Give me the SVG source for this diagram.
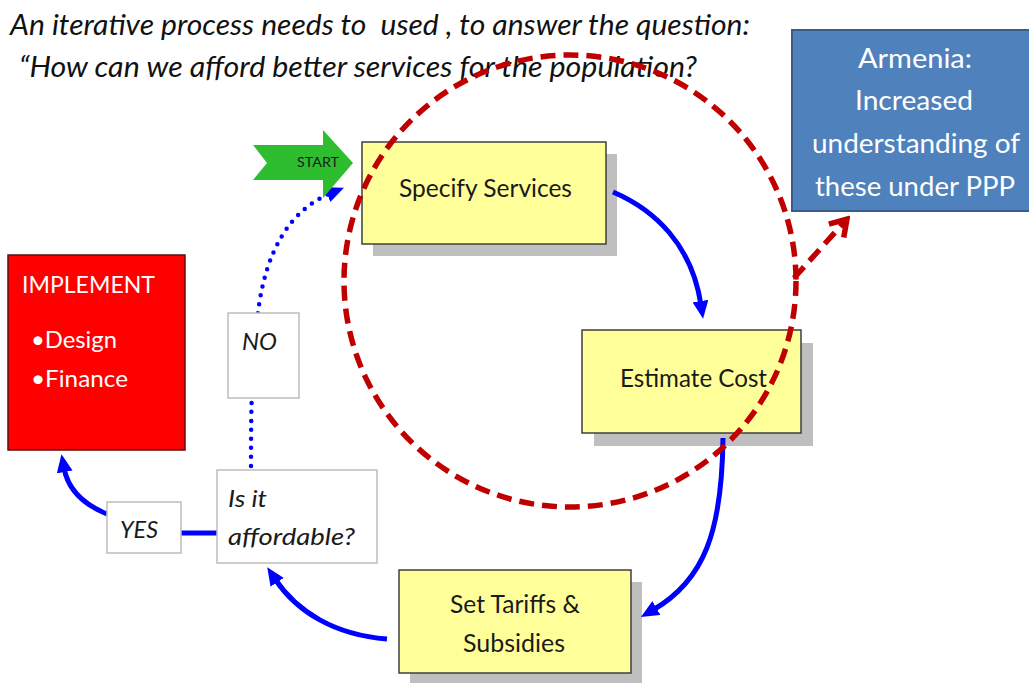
<svg xmlns="http://www.w3.org/2000/svg" width="1029" height="683" viewBox="0 0 1029 683">
  <style>
    text { font-family: Lato, "Liberation Sans", sans-serif; }
    .title { font-size: 28px; font-style: italic; fill: #111111; white-space: pre; }
    .step { fill: #FFFF99; stroke: #3f3f3f; stroke-width: 1.5; }
    .shadow { fill: #BFBFBF; }
    .stepText { font-size: 25px; fill: #1a1a1a; text-anchor: middle; }
    .label { fill: #ffffff; stroke: #bdbdbd; stroke-width: 1.5; }
    .labelText { font-size: 24px; font-style: italic; fill: #1a1a1a; }
    .white { fill: #ffffff; }
    .flow { fill: none; stroke: #0000FF; stroke-width: 5; }
    .loop { fill: none; stroke: #0000FF; stroke-width: 4.5; stroke-dasharray: 0 9; stroke-linecap: round; }
    .scope { fill: none; stroke: #C00000; stroke-width: 5.5; stroke-dasharray: 15 8; }
  </style>
  <defs>
    <marker id="blueHead" viewBox="0 0 18 16" refX="4" refY="8" markerWidth="18" markerHeight="16" markerUnits="userSpaceOnUse" orient="auto">
      <path d="M0,0 L18,8 L0,16 Z" fill="#0000FF"/>
    </marker>
    <marker id="redHead" viewBox="-20 -13 24 26" refX="0" refY="0" markerWidth="24" markerHeight="26" markerUnits="userSpaceOnUse" orient="auto">
      <path d="M-16,-10 L0,0 L-16,10" fill="none" stroke="#C00000" stroke-width="5.5"/>
    </marker>
  </defs>

  <rect width="1029" height="683" fill="#ffffff"/>

  <!-- heading -->
  <g id="heading">
    <text class="title" x="10" y="35" textLength="740" lengthAdjust="spacingAndGlyphs">An iterative process needs to &#160;used , to answer the question:</text>
    <text class="title" x="19" y="77" textLength="678" lengthAdjust="spacingAndGlyphs">“How can we afford better services for the population?</text>
  </g>

  <!-- process steps -->
  <g id="specify-services">
    <rect class="shadow" x="373" y="154" width="244" height="102"/>
    <rect class="step" x="362" y="142" width="244" height="102"/>
    <text class="stepText" x="485.5" y="197" textLength="173" lengthAdjust="spacingAndGlyphs">Specify Services</text>
  </g>

  <g id="estimate-cost">
    <rect class="shadow" x="594" y="343" width="219" height="103"/>
    <rect class="step" x="582" y="330" width="219" height="103"/>
    <text class="stepText" x="693.5" y="387" textLength="147" lengthAdjust="spacingAndGlyphs">Estimate Cost</text>
  </g>

  <g id="set-tariffs">
    <rect class="shadow" x="410" y="582" width="232" height="103"/>
    <rect class="step" x="399" y="570" width="232" height="103"/>
    <text class="stepText" x="515" y="613" textLength="130" lengthAdjust="spacingAndGlyphs">Set Tariffs &amp;</text>
    <text class="stepText" x="514" y="652" textLength="102" lengthAdjust="spacingAndGlyphs">Subsidies</text>
  </g>

  <g id="implement">
    <rect x="8" y="255" width="177" height="195" fill="#FF0000" stroke="#5a1010" stroke-width="1.5"/>
    <text class="white" x="22" y="293" font-size="24" textLength="133" lengthAdjust="spacingAndGlyphs">IMPLEMENT</text>
    <text class="white" x="31" y="348" font-size="24" textLength="86" lengthAdjust="spacingAndGlyphs">•Design</text>
    <text class="white" x="31" y="387" font-size="24" textLength="97" lengthAdjust="spacingAndGlyphs">•Finance</text>
  </g>

  <!-- connectors -->
  <g id="connectors">
    <path class="flow" d="M613,192 C655,210 692,245 701,305" marker-end="url(#blueHead)"/>
    <path class="flow" d="M723,438 C722,530 705,580 653,610" marker-end="url(#blueHead)"/>
    <path class="flow" d="M387,639 C335,635 297,612 275,579" marker-end="url(#blueHead)"/>
    <path class="flow" d="M181,533 L217,533"/>
    <path class="flow" d="M107,514 C85,505 68,490 64,468" marker-end="url(#blueHead)"/>
    <path class="loop" d="M251,466 C251,400 252,360 258,312 C266,250 290,210 331,193" marker-end="url(#blueHead)"/>
  </g>

  <!-- decision labels -->
  <g id="no-label">
    <rect class="label" x="228" y="313" width="71" height="85"/>
    <text class="labelText" x="242" y="350" textLength="35" lengthAdjust="spacingAndGlyphs">NO</text>
  </g>

  <g id="yes-label">
    <rect class="label" x="107" y="502" width="74" height="51"/>
    <text class="labelText" x="120" y="538" textLength="38" lengthAdjust="spacingAndGlyphs">YES</text>
  </g>

  <g id="affordable">
    <rect class="label" x="217" y="470" width="160" height="93"/>
    <text class="labelText" x="228" y="507" textLength="39" lengthAdjust="spacingAndGlyphs">Is it</text>
    <text class="labelText" x="228" y="545" textLength="127" lengthAdjust="spacingAndGlyphs">affordable?</text>
  </g>

  <g id="start">
    <polygon points="253,145 323,145 323,130 353,163 323,198 323,180 253,180 267,163" fill="#2EBD2E"/>
    <text x="297" y="167" font-size="14" fill="#1a1a1a" textLength="42" lengthAdjust="spacingAndGlyphs">START</text>
  </g>

  <!-- dashed scope circle and its link to the outcome box -->
  <g id="scope">
    <circle class="scope" cx="570" cy="281" r="226"/>
    <path class="scope" d="M794,278 L847,219" marker-end="url(#redHead)"/>
  </g>

  <g id="armenia">
    <rect x="792" y="30" width="245" height="181" fill="#4F81BD" stroke="#385D8A" stroke-width="2"/>
    <text class="white" x="915" y="68" font-size="27" text-anchor="middle" textLength="114" lengthAdjust="spacingAndGlyphs">Armenia:</text>
    <text class="white" x="914" y="110" font-size="27" text-anchor="middle" textLength="118" lengthAdjust="spacingAndGlyphs">Increased</text>
    <text class="white" x="916" y="153" font-size="27" text-anchor="middle" textLength="208" lengthAdjust="spacingAndGlyphs">understanding of</text>
    <text class="white" x="915" y="196" font-size="27" text-anchor="middle" textLength="200" lengthAdjust="spacingAndGlyphs">these under PPP</text>
  </g>
</svg>
